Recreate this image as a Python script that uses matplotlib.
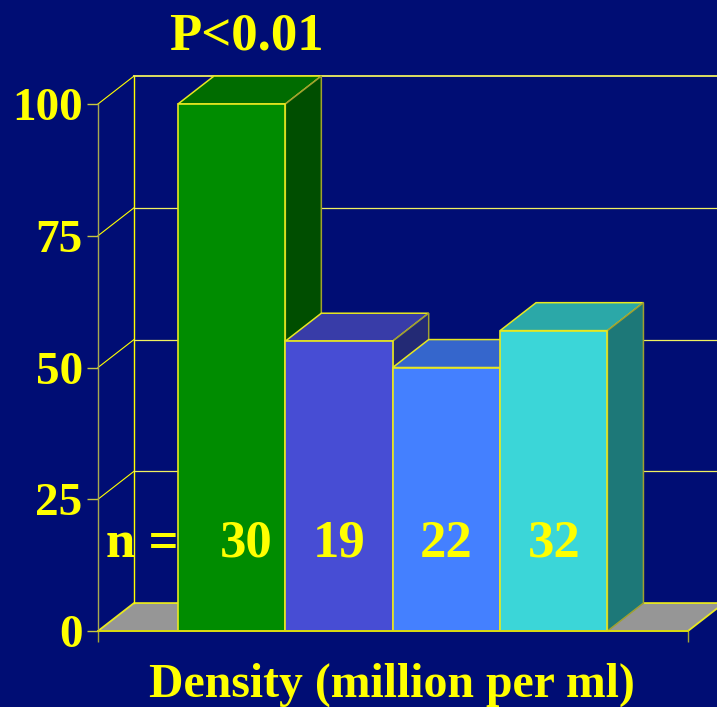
import matplotlib
matplotlib.use("Agg")
import matplotlib.pyplot as plt
from matplotlib.patches import Polygon

# data
values = [100, 55, 50, 57]
n_labels = ["30", "19", "22", "32"]
y_ticks = [0, 25, 50, 75, 100]

front_c = ["#008c00", "#474dd4", "#4480ff", "#3bd6d8"]
top_c = ["#006c00", "#383ca8", "#3566cc", "#2ba8a8"]
side_c = ["#004e00", "#232a75", "#2a50a0", "#1d7878"]

bg = "#000d74"
yel = "#ffff00"
line = "#e8e820"

plt.rcParams["font.family"] = ["Liberation Serif", "DejaVu Serif"]
plt.rcParams["font.weight"] = "bold"

W, H = 717, 707
fig = plt.figure(figsize=(W / 100, H / 100), dpi=100, facecolor=bg)
ax = fig.add_axes([98 / W, (H - 631) / H, 590 / W, 527 / H], facecolor="none")

xmin, xmax = -1.245, 4.25
ax.set_xlim(xmin, xmax)
ax.set_ylim(0, 100)

# depth of the fake 3d box
dx = 0.335
dy = 5.3
hw = 0.5

# floor and walls
ax.add_patch(Polygon([(xmin, 0), (xmin + dx, dy), (xmax + dx, dy), (xmax, 0)],
                     fc="#969696", ec=line, lw=1.3, clip_on=False, zorder=1))
ax.plot([xmin + dx, xmin + dx], [dy, 100 + dy], color=yel, lw=1.0,
        clip_on=False, zorder=1)
for t in y_ticks[1:]:
    ax.plot([xmin, xmin + dx], [t, t + dy], color=yel, lw=0.8,
            clip_on=False, zorder=1)
    ax.plot([xmin + dx, xmax + dx], [t + dy, t + dy], color="#f0f060",
            lw=1.3 if t == 100 else 0.9, clip_on=False, zorder=1)

# bars, painted from left to right
for i, v in enumerate(values):
    z = 2 + i
    x0, x1 = i - hw, i + hw
    ax.bar(i, v, width=2 * hw, color=front_c[i], edgecolor=line, lw=1.2,
           zorder=z + 0.2, clip_on=False)
    ax.add_patch(Polygon([(x0, v), (x0 + dx, v + dy), (x1 + dx, v + dy), (x1, v)],
                         fc=top_c[i], ec=line, lw=1.1, clip_on=False, zorder=z))
    ax.add_patch(Polygon([(x1, 0), (x1 + dx, dy), (x1 + dx, v + dy), (x1, v)],
                         fc=side_c[i], ec="#a0a030", lw=1.1, clip_on=False, zorder=z))

# axes
for s in ["top", "right"]:
    ax.spines[s].set_visible(False)
ax.spines["left"].set_color("#a8a850")
ax.spines["left"].set_linewidth(1.0)
ax.spines["bottom"].set_color("#d8d810")
ax.spines["bottom"].set_linewidth(1.3)
ax.spines["bottom"].set_zorder(10)
ax.set_yticks(y_ticks)
ax.set_xticks([xmin, xmax])
ax.set_xticklabels([])
ax.tick_params(axis="y", colors="#c8c840", length=8, width=1.0, pad=3,
               labelsize=34, labelcolor=yel)
ax.tick_params(axis="x", colors="#a8a830", length=8, width=1.0)

# n labels over the bars
n_y = 16.6
ax.text(xmin + 0.07, n_y, "n =", color=yel, fontsize=38, ha="left",
        va="center", zorder=2)
for i, s in enumerate(n_labels):
    off = 0.135 if i == 0 else 0.0
    ax.text(i + off, n_y, s, color=yel, fontsize=38, ha="center", va="center",
            zorder=20)

fig.text(246 / W, 1 - 49 / H, "P<0.01", color=yel, fontsize=38, ha="center",
         va="baseline")
fig.text(392 / W, 1 - 697 / H, "Density (million per ml)", color=yel,
         fontsize=34.4, ha="center", va="baseline")

fig.savefig("out.png", dpi=100, facecolor=bg)
